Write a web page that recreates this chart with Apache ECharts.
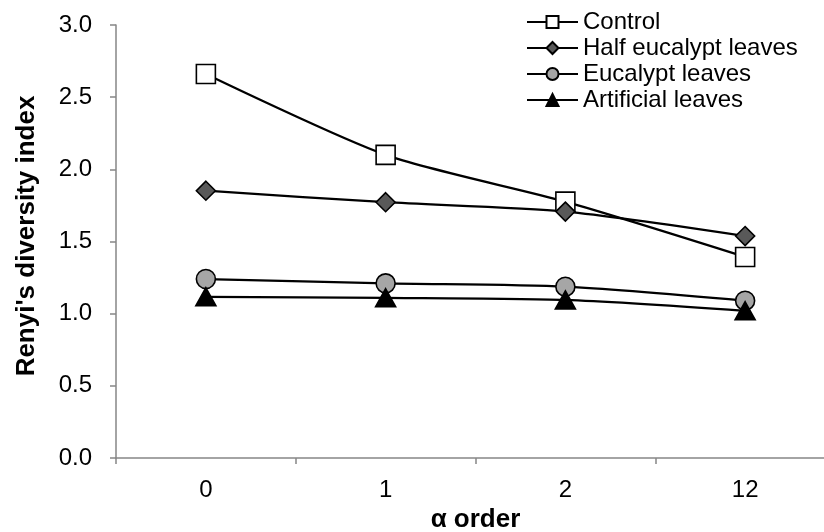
<!DOCTYPE html>
<html>
<head>
<meta charset="utf-8">
<script src="https://cdn.jsdelivr.net/npm/echarts@6/dist/echarts.min.js"></script>
<style>
  html, body { margin: 0; padding: 0; background: #fff; }
  #chart { width: 824px; height: 532px; }
</style>
</head>
<body>
<div id="chart"></div>
<script>
const alphaOrders = ["0", "1", "2", "12"];
const control = [2.66, 2.10, 1.776, 1.393];
const halfEucalypt = [1.852, 1.772, 1.707, 1.538];
const eucalypt = [1.24, 1.21, 1.187, 1.09];
const artificial = [1.117, 1.11, 1.095, 1.02];

const chart = echarts.init(document.getElementById("chart"));
const font = "Liberation Sans, Arial, sans-serif";

function mkSeries(name, data, symbol, size, fill) {
  return {
    name,
    type: "line",
    data,
    smooth: 0.25,
    symbol,
    symbolSize: size,
    showAllSymbol: true,
    lineStyle: { color: "#000", width: 2.25 },
    itemStyle: { color: fill, borderColor: "#000", borderWidth: 1.6 },
    z: 3,
  };
}

chart.setOption({
  animation: false,
  backgroundColor: "#fff",
  textStyle: { fontFamily: font },
  grid: { left: 116, right: -11, top: 25, bottom: 74, outerBoundsMode: "none", containLabel: false },
  legend: {
    orient: "vertical",
    left: 521,
    top: 5,
    itemWidth: 51,
    itemHeight: 15,
    itemGap: 2,
    textStyle: { fontSize: 24, lineHeight: 24, color: "#000", fontFamily: font },
    data: ["Control", "Half eucalypt leaves", "Eucalypt leaves", "Artificial leaves"],
  },
  xAxis: {
    type: "category",
    data: alphaOrders,
    boundaryGap: true,
    name: "α order",
    nameLocation: "middle",
    nameGap: 49,
    nameTextStyle: { fontSize: 26, fontWeight: "bold", color: "#000" },
    axisLine: { lineStyle: { color: "#868686", width: 1.5 } },
    axisTick: { show: true, length: 6, lineStyle: { color: "#868686", width: 1.5 } },
    axisLabel: { fontSize: 24, color: "#000", margin: 20 },
  },
  yAxis: {
    type: "value",
    min: 0,
    max: 3,
    interval: 0.5,
    name: "Renyi's diversity index",
    nameLocation: "middle",
    nameGap: 76,
    nameTextStyle: { fontSize: 26, fontWeight: "bold", color: "#000", padding: [0, 0, 0, 11] },
    axisLine: { show: true, lineStyle: { color: "#868686", width: 1.5 } },
    axisTick: { show: true, length: 6, lineStyle: { color: "#868686", width: 1.5 } },
    axisLabel: { fontSize: 24, color: "#000", margin: 24, formatter: (v) => v.toFixed(1) },
    splitLine: { show: false },
  },
  series: [
    mkSeries("Control", control, "rect", 19, "#fff"),
    mkSeries("Half eucalypt leaves", halfEucalypt, "diamond", 19, "#595959"),
    mkSeries("Eucalypt leaves", eucalypt, "circle", 19, "#a6a6a6"),
    mkSeries("Artificial leaves", artificial, "triangle", [20, 18], "#000"),
  ],
});
</script>
</body>
</html>
